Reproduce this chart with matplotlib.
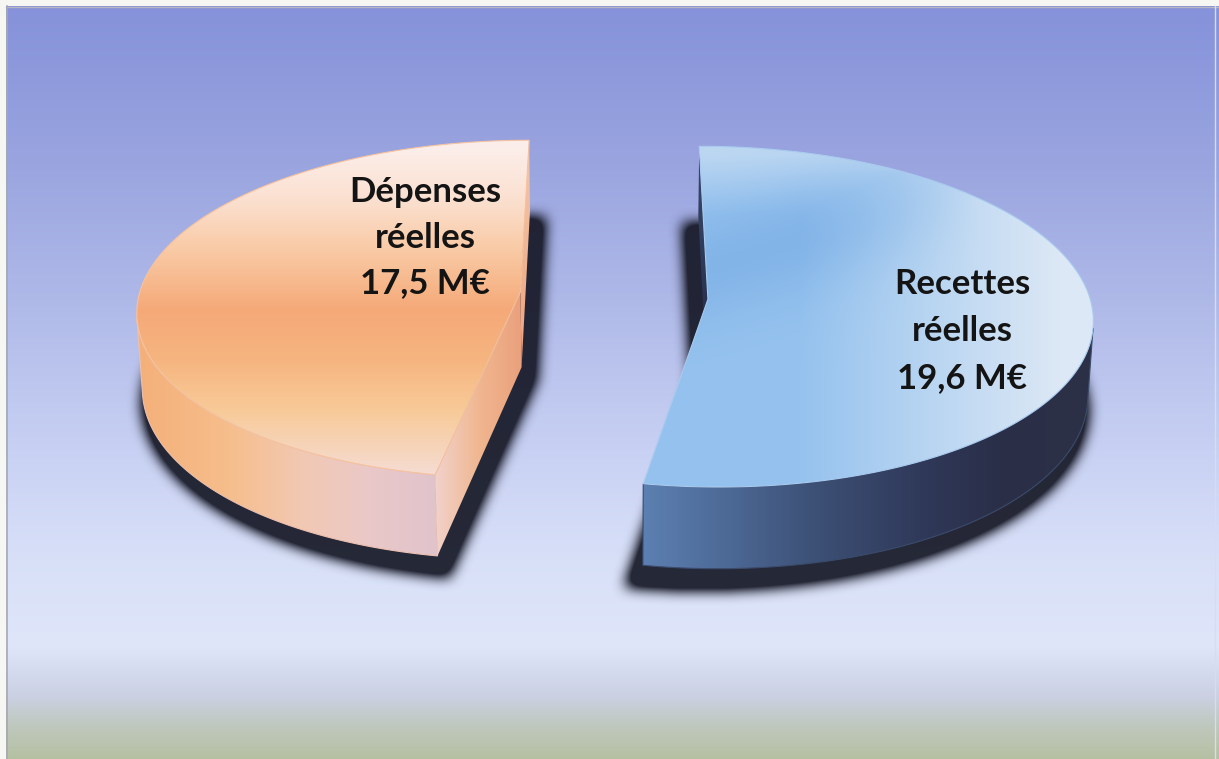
import numpy as np
import matplotlib
matplotlib.use("Agg")
import matplotlib.pyplot as plt
from matplotlib.patches import Polygon, Rectangle
from matplotlib.path import Path
from matplotlib.colors import to_rgb

# budget figures, M€
labels = ["Dépenses\nréelles\n17,5 M€", "Recettes\nréelles\n19,6 M€"]
values = [17.5, 19.6]

W, H = 1219, 759

# 3d pie geometry, screen pixels
CX, CY = 614, 371
R, T = 377, 84
EXPLODE = 93
ELEV = np.radians(27.4)
DIST = 3315
cam = np.array([0.0, -DIST * np.cos(ELEV), DIST * np.sin(ELEV)])  # X, Z, Y


def project(X, Z, Y):
    depth = Z * np.cos(ELEV) - Y * np.sin(ELEV)
    k = DIST / (DIST + depth)
    return np.column_stack([CX + k * X, CY - k * (Z * np.sin(ELEV) + Y * np.cos(ELEV))])


def ramp(coord, stops):
    pos = [p for p, _ in stops]
    cols = np.array([to_rgb(c) for _, c in stops])
    return np.stack([np.interp(coord, pos, cols[:, i]) for i in range(3)], axis=-1)


def box_blur(a, r, axis):
    a = np.moveaxis(a, axis, 0)
    pad = [(r + 1, r)] + [(0, 0)] * (a.ndim - 1)
    c = np.cumsum(np.pad(a, pad, mode="edge"), axis=0)
    out = (c[2 * r + 1:] - c[:-2 * r - 1]) / (2 * r + 1)
    return np.moveaxis(out, 0, axis)


def fill(ax, pts, colfn, z, edge=None):
    x0, x1 = int(np.floor(pts[:, 0].min())) - 1, int(np.ceil(pts[:, 0].max())) + 1
    y0, y1 = int(np.floor(pts[:, 1].min())) - 1, int(np.ceil(pts[:, 1].max())) + 1
    gx, gy = np.meshgrid(np.arange(x0, x1) + 0.5, np.arange(y0, y1) + 0.5)
    im = ax.imshow(colfn(gx, gy), extent=(x0, x1, y1, y0), zorder=z,
                   interpolation="bilinear", aspect="auto")
    patch = Polygon(pts, closed=True, transform=ax.transData, fc="none", ec="none")
    im.set_clip_path(patch)
    if edge is not None:
        ax.add_patch(Polygon(pts, closed=True, fc="none", ec=edge, lw=0.8, zorder=z + 0.1))


fig = plt.figure(figsize=(W / 100, H / 100), dpi=100)
ax = fig.add_axes([0, 0, 1, 1])
ax.set_axis_off()

# background
gy = np.arange(H)[:, None] + np.zeros((1, W))
bg = ramp(gy, [(0, "#8591d9"), (150, "#98a3df"), (300, "#afb9e8"), (450, "#c8d1f3"),
               (560, "#d8e0f8"), (645, "#dfe6fa"), (695, "#cbd1e3"), (728, "#bec7bb"),
               (759, "#b5c0a2")])
ax.imshow(bg, extent=(0, W, H, 0), zorder=0, aspect="auto")

total = sum(values)
sweeps = [360 * v / total for v in values]
ranges = [(90, 90 + sweeps[0]), (90 - sweeps[1], 90)]

# styling of each slice
def orange_top(x, y):
    return ramp(y, [(148, "#fbeeea"), (200, "#fbe0d0"), (250, "#f9caa5"), (310, "#f5a978"),
                    (360, "#f6b580"), (410, "#f8ca98"), (475, "#f5dcd3")])

def orange_wall(x, y):
    return ramp(x, [(140, "#f4b07a"), (230, "#f6be8c"), (300, "#f2c8b2"), (370, "#eac8c8"),
                    (440, "#e0c3cc")])

def orange_cut(x, y):
    return ramp(x, [(435, "#f2d2cb"), (480, "#f0b68f"), (528, "#e99d79")])

def orange_side(x, y):
    return ramp(y, [(148, "#f4c6a8"), (370, "#eea27c")])

def blue_top(x, y):
    light = np.array(to_rgb("#dce8f5"))
    base = np.array(to_rgb("#95c2ee"))
    dark = np.array(to_rgb("#7cafe6"))
    s = np.clip((x - 800) / 260, 0, 1)
    s = np.maximum(s, np.clip((215 - y) / 60, 0, 1) * 0.55)
    c = base + (light - base) * s[..., None]
    streak = np.exp(-((y - 270 + 0.3 * (x - 700)) / 55) ** 2) * np.clip((980 - x) / 180, 0, 1)
    c = c + (dark - c) * (0.7 * streak)[..., None]
    return np.clip(c, 0, 1)

def blue_wall(x, y):
    return ramp(x, [(640, "#5d81b3"), (720, "#4e6b98"), (820, "#3c4f74"), (920, "#30395a"),
                    (1000, "#2a2f48"), (1090, "#2c3146")])

def blue_side(x, y):
    return ramp(y, [(150, "#3a4a6c"), (300, "#2a3452")])

styles = [dict(top=orange_top, wall=orange_wall, cut_end=orange_cut, cut_start=orange_side,
               edge_top="#f6c3a0", edge_wall="#ecc0b0"),
          dict(top=blue_top, wall=blue_wall, cut_end=blue_side, cut_start=blue_side,
               edge_top="#a9cbef", edge_wall="#3b4b6c")]

# shadow under the slices
mask = np.zeros((H, W))
px, py = np.meshgrid(np.arange(W) + 0.5, np.arange(H) + 0.5)
grid = np.column_stack([px.ravel(), py.ravel()])
slices = []
for (a0, a1) in ranges:
    mid = np.radians((a0 + a1) / 2)
    ox, oz = EXPLODE * np.cos(mid), EXPLODE * np.sin(mid)
    slices.append((a0, a1, ox, oz))
    th = np.radians(np.linspace(a0, a1, 200))
    rs = R * 1.04
    X = np.concatenate([[ox], ox + rs * np.cos(th)])
    Z = np.concatenate([[oz], oz + rs * np.sin(th)])
    poly = project(X, Z, np.full_like(X, -4.0))
    poly[:, 0] += -np.sign(ox) * 15
    poly[:, 1] += 9
    inside = Path(poly).contains_points(grid).reshape(H, W)
    mask = np.maximum(mask, inside.astype(float))
for _ in range(3):
    mask = box_blur(box_blur(mask, 6, 0), 6, 1)
shadow = np.zeros((H, W, 4))
shadow[..., :3] = to_rgb("#151725")
shadow[..., 3] = np.clip(mask * 1.5, 0, 0.92)
ax.imshow(shadow, extent=(0, W, H, 0), zorder=1, aspect="auto", interpolation="bilinear")

# slices: outer wall, cut faces, top
for (a0, a1, ox, oz), st in zip(slices, styles):
    th = np.radians(np.linspace(a0, a1, 400))
    X = ox + R * np.cos(th)
    Z = oz + R * np.sin(th)

    # visible part of the outer wall
    to_cam = np.column_stack([cam[0] - X, cam[1] - Z])
    vis = np.cos(th) * to_cam[:, 0] + np.sin(th) * to_cam[:, 1] > 0
    idx = np.where(vis)[0]
    if len(idx) > 1:
        i0, i1 = idx[0], idx[-1] + 1
        top_edge = project(X[i0:i1], Z[i0:i1], np.full(i1 - i0, T))
        bot_edge = project(X[i0:i1], Z[i0:i1], np.zeros(i1 - i0))
        band = np.vstack([top_edge, bot_edge[::-1]])
        fill(ax, band, st["wall"], 2, edge=st["edge_wall"])

    # radial cut faces
    for ang, key, sgn in [(a0, "cut_start", -1), (a1, "cut_end", 1)]:
        a = np.radians(ang)
        na = a + sgn * np.pi / 2
        ex, ez = ox + R * np.cos(a), oz + R * np.sin(a)
        fx, fz = (ox + ex) / 2, (oz + ez) / 2
        if np.cos(na) * (cam[0] - fx) + np.sin(na) * (cam[1] - fz) > 0:
            quad = project(np.array([ox, ex, ex, ox]), np.array([oz, ez, ez, oz]),
                           np.array([T, T, 0, 0]))
            fill(ax, quad, st[key], 3)

    top = project(np.concatenate([[ox], X]), np.concatenate([[oz], Z]),
                  np.full(len(X) + 1, T))
    fill(ax, top, st["top"], 4, edge=st["edge_top"])

# slice labels, one line at a time
label_pos = [(425, 192, 45.5), (962, 284, 47)]
for lab, (lx, ly, pitch) in zip(labels, label_pos):
    for i, line in enumerate(lab.split("\n")):
        ax.text(lx, ly + i * pitch, line, ha="center", va="center",
                fontsize=25, fontweight="bold", family="Lato", color="#141414", zorder=6)

# page border
ax.add_patch(Rectangle((0, 0), W, 6, fc="#f6f6f2", ec="none", zorder=8))
ax.add_patch(Rectangle((0, 0), 6, H, fc="#f6f6f2", ec="none", zorder=8))
ax.plot([6, W], [6.5, 6.5], color="#b8b8c0", lw=1, zorder=9)
ax.plot([6.5, 6.5], [6, H], color="#a8a8b0", lw=1.2, zorder=9)
ax.plot([W - 4.5, W - 4.5], [6, H], color="#d8dcf0", lw=1, zorder=9)

ax.set_xlim(0, W)
ax.set_ylim(H, 0)
fig.savefig("out.png", dpi=100)
